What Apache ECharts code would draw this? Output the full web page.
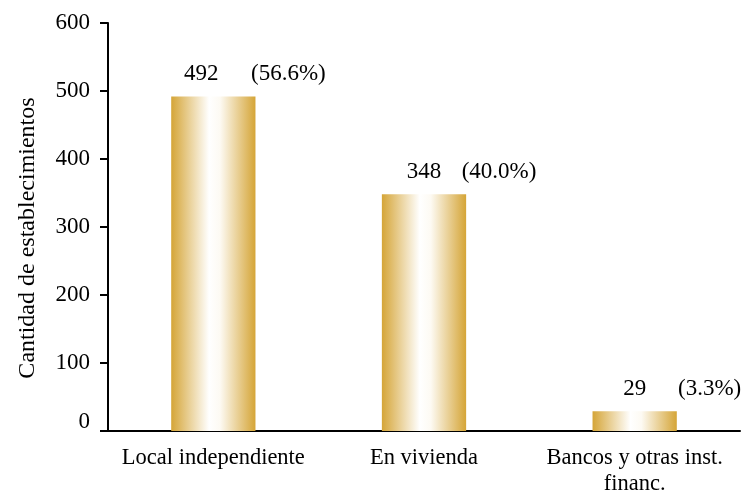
<!DOCTYPE html>
<html>
<head>
<meta charset="utf-8">
<script src="https://cdn.jsdelivr.net/npm/echarts@6/dist/echarts.min.js"></script>
<style>
  html, body { margin: 0; padding: 0; background: #fff; }
  #chart { width: 751px; height: 493px; }
</style>
</head>
<body>
<div id="chart"></div>
<script>
const categories = ['Local independiente', 'En vivienda', 'Bancos y otras inst.\nfinanc.'];
const counts = [492, 348, 29];
const shares = ['(56.6%)', '(40.0%)', '(3.3%)'];
const yTicks = [0, 100, 200, 300, 400, 500, 600];

const FONT = '"Liberation Serif", "Times New Roman", serif';
const GOLD = '#D5A537';

const barFill = new echarts.graphic.LinearGradient(0, 0, 1, 0, [
  { offset: 0, color: GOLD },
  { offset: 0.45, color: '#FFFFFF' },
  { offset: 0.58, color: '#FDFAF3' },
  { offset: 1, color: GOLD },
]);

// first value label sits a little left of its bar in the original
const valueData = counts.map((v, i) => (i === 0 ? { value: v, label: { offset: [-12, 0] } } : v));

const chart = echarts.init(document.getElementById('chart'));

chart.setOption({
  animation: false,
  textStyle: { fontFamily: FONT, color: '#000' },
  grid: { left: 108, right: 11, top: 23, bottom: 62, outerBoundsMode: 'none' },
  xAxis: {
    type: 'category',
    data: categories,
    axisLine: { lineStyle: { color: '#000', width: 2 } },
    axisTick: { show: false },
    axisLabel: { color: '#000', fontSize: 22.5, fontFamily: FONT, margin: 14, lineHeight: 26, interval: 0 },
  },
  yAxis: {
    type: 'value',
    min: yTicks[0],
    max: yTicks[yTicks.length - 1],
    interval: 100,
    name: 'Cantidad de establecimientos',
    nameLocation: 'middle',
    nameGap: 68,
    nameTextStyle: { color: '#000', fontSize: 24, fontFamily: FONT, padding: [0, 22, 0, 0] },
    axisLine: { show: true, lineStyle: { color: '#000', width: 2 } },
    axisTick: { show: true, length: 8, lineStyle: { color: '#000', width: 2 } },
    splitLine: { show: false },
    axisLabel: {
      color: '#000',
      fontSize: 23,
      fontFamily: FONT,
      margin: 18,
      formatter: (v) => (v === 0 ? '{z|0}' : String(v)),
      rich: { z: { fontSize: 23, fontFamily: FONT, color: '#000', padding: [0, 0, 18, 0] } },
    },
  },
  series: [
    {
      type: 'bar',
      data: valueData,
      barWidth: '40%',
      itemStyle: { color: barFill },
      label: {
        show: true,
        position: 'top',
        distance: 11,
        color: '#000',
        fontSize: 23,
        fontFamily: FONT,
      },
    },
    {
      // invisible twin bar, only carries the share labels
      type: 'bar',
      data: counts,
      barWidth: '40%',
      barGap: '-100%',
      itemStyle: { color: 'rgba(0,0,0,0)' },
      silent: true,
      label: {
        show: true,
        position: 'top',
        distance: 11,
        offset: [75, 0],
        color: '#000',
        fontSize: 23,
        fontFamily: FONT,
        formatter: (p) => shares[p.dataIndex],
      },
    },
  ],
});
</script>
</body>
</html>
